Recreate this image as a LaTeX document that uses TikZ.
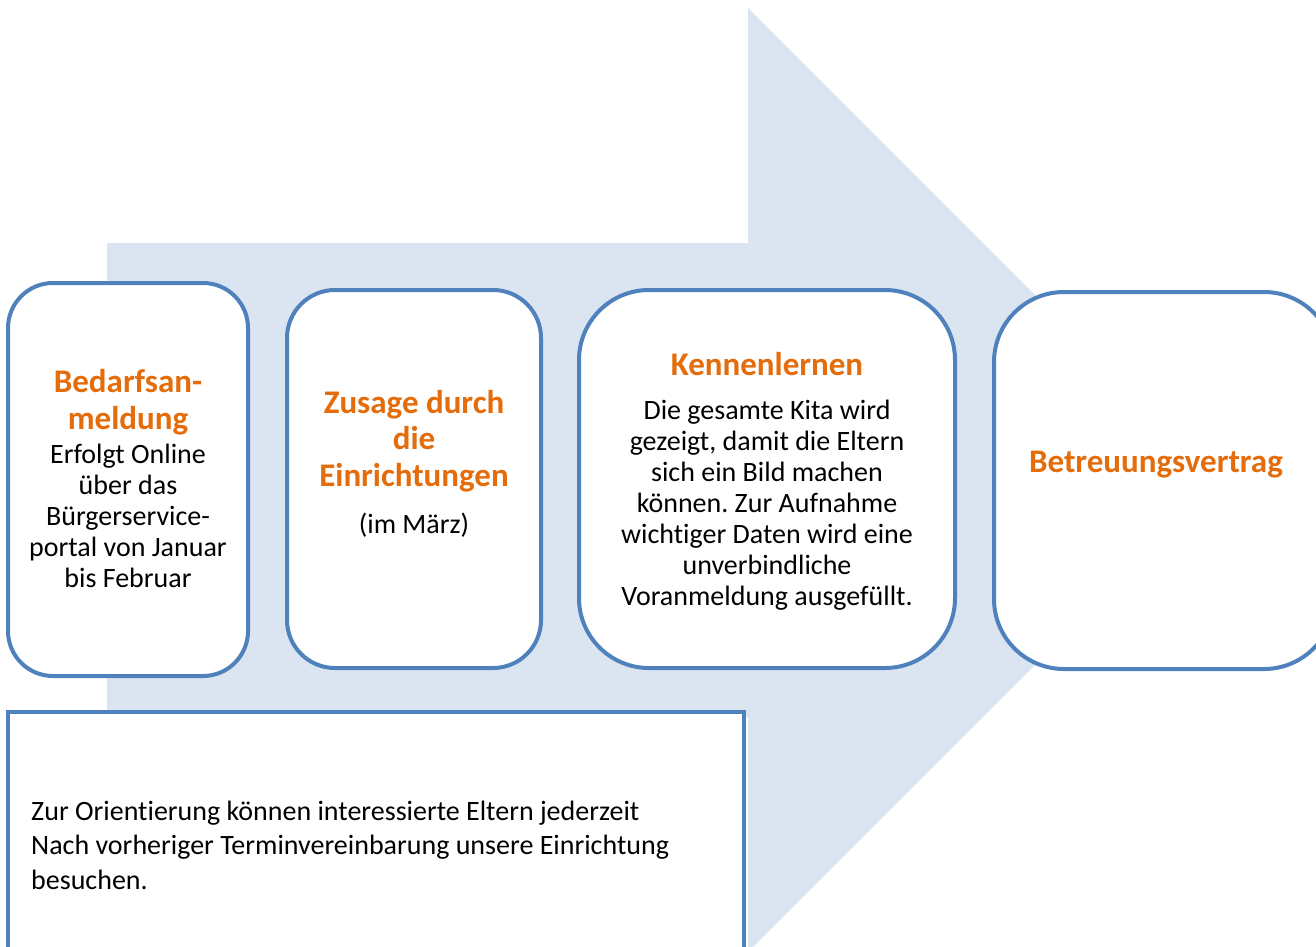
\documentclass[tikz,border=0pt]{standalone}
\usepackage{fontspec}
\setmainfont{Carlito}[Ligatures={NoCommon}]
\frenchspacing
\definecolor{arrowfill}{RGB}{219,229,241}
\definecolor{boxline}{RGB}{79,129,189}
\definecolor{titleorange}{RGB}{228,108,10}
\tikzset{
  stepbox/.style={draw=boxline, line width=4pt, fill=white, inner sep=0pt},
  titletext/.style={text=titleorange, font=\fontsize{33}{36.5}\selectfont\bfseries, align=center, inner sep=0pt},
  bodytext/.style={text=black, font=\fontsize{28}{31}\selectfont, align=center, inner sep=0pt},
}
\begin{document}
\begin{tikzpicture}[x=1pt,y=-1pt]
\useasboundingbox (0,0) rectangle (1316,946);
\clip (0,0) rectangle (1316,946);
% big arrow
\fill[arrowfill] (107,243) -- (748,243) -- (748,8) -- (1220,480) -- (748,952) -- (748,717) -- (107,717) -- cycle;
% boxes
\node[stepbox, rounded corners=45pt, minimum width=240pt, minimum height=393pt] (b1) at (128,479.5) {};
\node[stepbox, rounded corners=48pt, minimum width=254pt, minimum height=378pt] (b2) at (414,479) {};
\node[stepbox, rounded corners=70pt, minimum width=376pt, minimum height=378pt] (b3) at (767,479) {};
\node[stepbox, rounded corners=70pt, minimum width=340pt, minimum height=377pt] (b4) at (1164,480.5) {};
\node[stepbox, minimum width=736pt, minimum height=250pt] (note) at (376,837) {};
% texts
\node[titletext] (t1) at (128,402) {Bedarfsan-\\meldung};
\node[bodytext] (d1) at (128,516) {Erfolgt Online\\über das\\Bürgerservice-\\portal von Januar\\bis Februar};
\node[titletext] (t2) at (414,441) {Zusage durch\\die\\Einrichtungen};
\node[bodytext] (d2) at (414,525) {(im März)};
\node[titletext] (t3) at (767,364) {Kennenlernen};
\node[bodytext] (d3) at (767,505) {Die gesamte Kita wird\\gezeigt, damit die Eltern\\sich ein Bild machen\\können. Zur Aufnahme\\wichtiger Daten wird eine\\unverbindliche\\Voranmeldung ausgefüllt.};
\node[titletext] (t4) at (1156,465) {Betreuungsvertrag};
\node[bodytext, align=left, anchor=west, font=\fontsize{28}{34.5}\selectfont] (n1) at (31,845) {Zur Orientierung können interessierte Eltern jederzeit\\Nach vorheriger Terminvereinbarung unsere Einrichtung\\besuchen.};
\end{tikzpicture}
\end{document}
